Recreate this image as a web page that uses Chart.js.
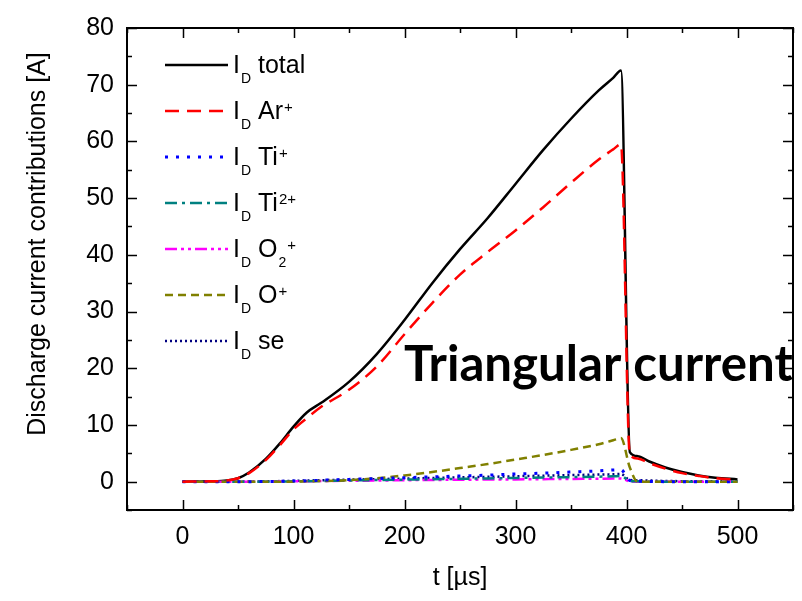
<!DOCTYPE html>
<html>
<head>
<meta charset="utf-8">
<script src="https://cdn.jsdelivr.net/npm/chart.js@4"></script>
<style>
  html, body { margin: 0; padding: 0; background: #fff; }
  #wrap { width: 802px; height: 601px; }
</style>
</head>
<body>
<div id="wrap"><canvas id="chart" width="802" height="601"></canvas></div>
<script>
// time samples in microseconds
const times = [0, 25, 40, 50, 60, 75, 88, 100, 112, 125, 150, 175, 200, 225, 250, 275, 300, 325, 350, 375, 388, 395, 403, 410, 420, 435, 450, 465, 480, 500];

// current contributions [A]
const iTotal = [0, 0.05, 0.2, 0.6, 1.6, 4.0, 6.8, 9.7, 12.2, 13.9, 17.6, 22.5, 28.5, 35, 41, 46.5, 52.5, 58.5, 64, 69, 71.2, 72.5, 5.2, 4.5, 3.6, 2.5, 1.7, 1.1, 0.7, 0.4];
const iAr = [0, 0.05, 0.2, 0.6, 1.5, 3.8, 6.5, 9.2, 11.2, 13.2, 16.2, 20.3, 26, 31.5, 36.5, 40.5, 44.3, 48.4, 52.7, 56.8, 58.6, 59.5, 4.8, 4.1, 3.3, 2.3, 1.5, 1.0, 0.6, 0.35];
const iTi = [0, 0, 0, 0, 0, 0.02, 0.05, 0.1, 0.15, 0.25, 0.4, 0.55, 0.7, 0.85, 1.0, 1.15, 1.35, 1.5, 1.7, 1.9, 2.05, 2.1, 0.2, 0.1, 0.05, 0, 0, 0, 0, 0];
const iTi2 = [0, 0, 0, 0, 0, 0, 0.02, 0.05, 0.08, 0.12, 0.2, 0.28, 0.35, 0.42, 0.5, 0.57, 0.65, 0.72, 0.8, 0.88, 0.95, 1.0, 0.1, 0.05, 0, 0, 0, 0, 0, 0];
const iO2 = [0, 0, 0, 0, 0, 0, 0.02, 0.05, 0.08, 0.1, 0.15, 0.2, 0.25, 0.3, 0.33, 0.37, 0.4, 0.44, 0.48, 0.52, 0.55, 0.57, 0.05, 0, 0, 0, 0, 0, 0, 0];
const iO = [0, 0, 0, 0, 0, 0, 0, 0, 0.05, 0.1, 0.25, 0.6, 1.1, 1.7, 2.4, 3.1, 3.9, 4.7, 5.6, 6.6, 7.3, 7.7, 2.5, 0, 0, 0, 0, 0, 0, 0];
const iSe = [0, 0, 0, 0, 0.02, 0.05, 0.1, 0.15, 0.2, 0.25, 0.35, 0.45, 0.55, 0.65, 0.75, 0.85, 0.95, 1.05, 1.15, 1.25, 1.3, 1.35, 0.3, 0.25, 0.2, 0.12, 0.08, 0.05, 0.05, 0.05];

const xTicks = [0, 100, 200, 300, 400, 500];
const yTicks = [0, 10, 20, 30, 40, 50, 60, 70, 80];

// legend text pieces: [text, kind] kind: n = normal, sub, sup
const legendLabels = [
    [['I', 'n'], ['D', 'sub'], [' total', 'n']],
    [['I', 'n'], ['D', 'sub'], [' Ar', 'n'], ['+', 'sup']],
    [['I', 'n'], ['D', 'sub'], [' Ti', 'n'], ['+', 'sup']],
    [['I', 'n'], ['D', 'sub'], [' Ti', 'n'], ['2+', 'sup']],
    [['I', 'n'], ['D', 'sub'], [' O', 'n'], ['2', 'sub'], ['+', 'sup']],
    [['I', 'n'], ['D', 'sub'], [' O', 'n'], ['+', 'sup']],
    [['I', 'n'], ['D', 'sub'], [' se', 'n']]
];

const FONT = '"Liberation Sans", Arial, sans-serif';

function pts(arr) {
    return times.map((t, i) => ({ x: t, y: arr[i] }));
}

function series(arr, color, dash, order, width) {
    return {
        data: pts(arr),
        borderColor: color,
        borderWidth: width || 2.5,
        borderDash: dash,
        borderCapStyle: 'butt',
        pointRadius: 0,
        fill: false,
        cubicInterpolationMode: 'monotone',
        order: order
    };
}

const datasets = [
    series(iTotal, '#000000', [], 7),
    series(iAr, '#ff0000', [14, 8], 1),
    series(iTi, '#0000ff', [3, 8], 2, 3),
    series(iTi2, '#008080', [12, 5, 3, 5], 4),
    series(iO2, '#ff00ff', [12, 4, 3, 4, 3, 4], 5),
    series(iO, '#808000', [8, 5], 3),
    series(iSe, '#000080', [2, 3], 6)
];

// frame, inward ticks, legend, titles and annotation
const decorPlugin = {
    id: 'decor',
    afterDraw(chart) {
        const ctx = chart.ctx;
        const a = chart.chartArea;
        const xs = chart.scales.x, ys = chart.scales.y;
        ctx.save();
        ctx.strokeStyle = '#000';
        ctx.lineWidth = 2;
        ctx.setLineDash([]);
        ctx.strokeRect(a.left, a.top, a.right - a.left, a.bottom - a.top);

        ctx.lineWidth = 1.5;
        ctx.beginPath();
        for (let v = -50; v <= 550; v += 50) {
            const px = Math.round(xs.getPixelForValue(v)) + 0.5;
            const len = v % 100 === 0 ? 10 : 5;
            ctx.moveTo(px, a.bottom); ctx.lineTo(px, a.bottom - len);
            ctx.moveTo(px, a.top); ctx.lineTo(px, a.top + len);
        }
        for (let v = -5; v <= 80; v += 5) {
            const py = Math.round(ys.getPixelForValue(v)) + 0.5;
            const len = v % 10 === 0 ? 10 : 5;
            ctx.moveTo(a.left, py); ctx.lineTo(a.left + len, py);
            ctx.moveTo(a.right, py); ctx.lineTo(a.right - len, py);
        }
        ctx.stroke();

        // legend
        ctx.fillStyle = '#000';
        ctx.textBaseline = 'alphabetic';
        ctx.textAlign = 'left';
        legendLabels.forEach((parts, i) => {
            const ds = datasets[i];
            const y = 65 + i * 46;
            ctx.save();
            ctx.strokeStyle = ds.borderColor;
            ctx.lineWidth = ds.borderWidth;
            ctx.setLineDash(ds.borderDash);
            ctx.beginPath();
            ctx.moveTo(165, y);
            ctx.lineTo(228, y);
            ctx.stroke();
            ctx.restore();
            let x = 233;
            parts.forEach(([txt, kind]) => {
                if (kind === 'n') {
                    ctx.font = '25px ' + FONT;
                    ctx.fillText(txt, x, y + 8);
                    x += ctx.measureText(txt).width;
                } else if (kind === 'sub') {
                    ctx.font = '14px ' + FONT;
                    ctx.fillText(txt, x + 1, y + 18);
                    x += ctx.measureText(txt).width + 1;
                } else {
                    ctx.font = '15px ' + FONT;
                    ctx.fillText(txt, x + 1, y + 1);
                    x += ctx.measureText(txt).width + 1;
                }
            });
        });

        // axis titles
        ctx.font = '25px ' + FONT;
        ctx.textAlign = 'center';
        ctx.textBaseline = 'middle';
        ctx.fillText('t [\u00b5s]', (a.left + a.right) / 2, 578);
        ctx.save();
        ctx.translate(38, 244);
        ctx.rotate(-Math.PI / 2);
        ctx.fillText('Discharge current contributions [A]', 0, 0);
        ctx.restore();

        // annotation
        const label = 'Triangular current';
        let size = 46;
        ctx.font = 'bold ' + size + 'px Lato, "Open Sans", sans-serif';
        size = size * 389 / ctx.measureText(label).width;
        ctx.font = 'bold ' + size.toFixed(1) + 'px Lato, "Open Sans", sans-serif';
        ctx.textAlign = 'left';
        ctx.textBaseline = 'alphabetic';
        ctx.fillText(label, 404, 381);
        ctx.restore();
    }
};

new Chart(document.getElementById('chart'), {
    type: 'line',
    data: { datasets: datasets },
    options: {
        responsive: false,
        animation: false,
        devicePixelRatio: 1,
        layout: { padding: { top: 20, right: 9, left: 0, bottom: 0 } },
        plugins: { legend: { display: false }, tooltip: { enabled: false } },
        scales: {
            x: {
                type: 'linear',
                min: -50,
                max: 550,
                afterBuildTicks: s => { s.ticks = xTicks.map(v => ({ value: v })); },
                afterFit: s => { s.height = 91; },
                grid: { display: false, drawTicks: false },
                border: { display: false },
                ticks: { color: '#000', font: { family: FONT, size: 25 }, padding: 12, maxRotation: 0 }
            },
            y: {
                type: 'linear',
                min: -5,
                max: 80,
                afterBuildTicks: s => { s.ticks = yTicks.map(v => ({ value: v })); },
                afterFit: s => { s.width = 127; },
                grid: { display: false, drawTicks: false },
                border: { display: false },
                ticks: { color: '#000', font: { family: FONT, size: 25 }, padding: 13 }
            }
        }
    },
    plugins: [decorPlugin]
});
</script>
</body>
</html>
